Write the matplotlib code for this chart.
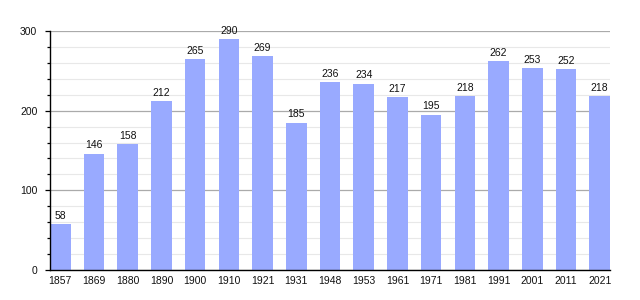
import matplotlib
matplotlib.use("Agg")
import matplotlib.pyplot as plt
from matplotlib.ticker import MultipleLocator

years = ["1857", "1869", "1880", "1890", "1900", "1910", "1921", "1931", "1948",
         "1953", "1961", "1971", "1981", "1991", "2001", "2011", "2021"]
population = [58, 146, 158, 212, 265, 290, 269, 185, 236, 234, 217, 195, 218,
              262, 253, 252, 218]

plt.rcParams['font.family'] = ['Liberation Sans', 'DejaVu Sans']

fig = plt.figure(figsize=(6.4, 3.0), dpi=100)
ax = fig.add_axes([50/640, 1 - 270/300, 560/640, 239/300])

x = list(range(len(years)))
w = 0.61
ax.bar(x, population, width=w, color="#99aaff", zorder=3)
for xi, v in zip(x, population):
    ax.text(xi, v + 4, str(v), ha="center", va="bottom", fontsize=7.5, color="#111111", zorder=4)

ax.set_xlim(-w/2, len(years) - 1 + w/2)
ax.set_ylim(0, 300)
ax.yaxis.set_major_locator(MultipleLocator(100))
ax.yaxis.set_minor_locator(MultipleLocator(20))
ax.grid(axis="y", which="major", color="#aaaaaa", linewidth=0.9, zorder=1)
ax.grid(axis="y", which="minor", color="#e8e8e8", linewidth=0.8, zorder=1)
ax.set_xticks(x)
ax.set_xticklabels(years)
ax.tick_params(axis="x", length=0, labelsize=7.5, pad=4, labelcolor="#111111")
ax.tick_params(axis="y", which="major", length=3.6, width=0.9, labelsize=7.5, pad=5.5, labelcolor="#111111")
ax.tick_params(axis="y", which="minor", length=2, width=0.9)
for s in ["top", "right"]:
    ax.spines[s].set_visible(False)
ax.spines["left"].set_linewidth(1.0)
ax.spines["bottom"].set_linewidth(1.0)
ax.spines["left"].set_zorder(5)
ax.spines["bottom"].set_zorder(5)

fig.savefig("out.png", dpi=100)
